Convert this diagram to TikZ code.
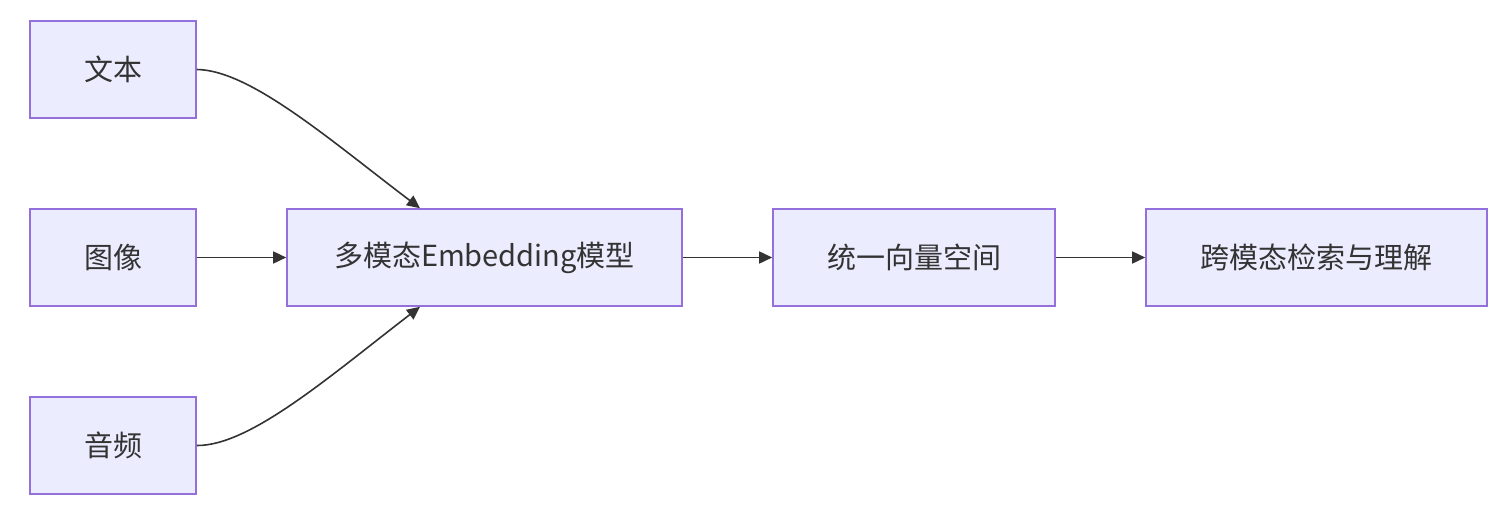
\documentclass[tikz,border=0pt]{standalone}
\usepackage{fontspec}
\setmainfont{Noto Sans CJK SC}
\usetikzlibrary{arrows.meta,positioning,calc}
\definecolor{mmfill}{HTML}{ECECFF}
\definecolor{mmline}{HTML}{9370DB}
\definecolor{mmtext}{HTML}{333333}
\tikzset{box/.style={draw=mmline,fill=mmfill,line width=1.6pt,inner sep=0pt,
    minimum height=97pt,align=center,text=mmtext,font=\fontsize{29}{34}\selectfont},
  flow/.style={-{Triangle[length=13pt,width=12pt]},line width=1.6pt,mmtext}}

\begin{document}
\begin{tikzpicture}[x=1pt, y=-1pt]
\useasboundingbox (0,0) rectangle (1506,516);
% inputs
\node[box, minimum width=166pt] (wenben) at (113,69.5) {文本};
\node[box, minimum width=166pt] (tuxiang) at (113,257.5) {图像};
\node[box, minimum width=166pt] (yinpin) at (113,445.5) {音频};
% pipeline
\node[box, minimum width=395pt] (embed) at (484.5,257.5) {多模态Embedding模型};
\node[box, minimum width=282pt] (space) at (914,257.5) {统一向量空间};
\node[box, minimum width=341pt] (retrieve) at (1316.5,257.5) {跨模态检索与理解};
% connectors
\draw[flow] (wenben.east) .. controls (250,70) and (330,140) .. ([xshift=-64.5pt]embed.north);
\draw[flow] (tuxiang) -- (embed);
\draw[flow] (yinpin.east) .. controls (250,446) and (330,376) .. ([xshift=-64.5pt]embed.south);
\draw[flow] (embed) -- (space);
\draw[flow] (space) -- (retrieve);
\end{tikzpicture}
\end{document}
